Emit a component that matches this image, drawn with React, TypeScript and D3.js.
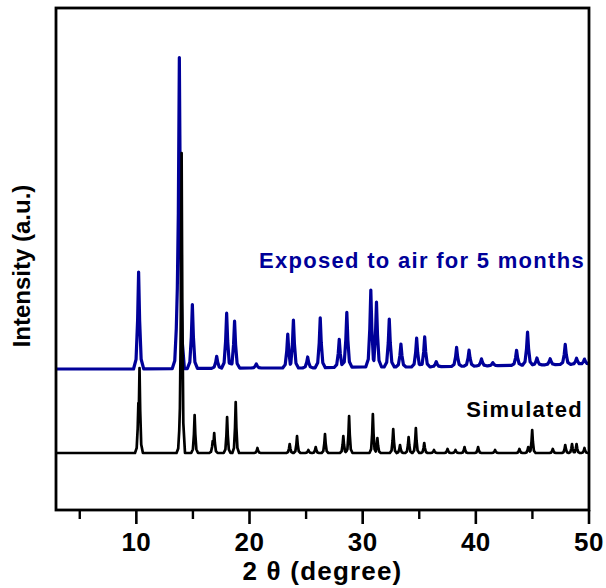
import React from 'react';
import * as d3 from 'd3';

// ---- axis ticks ----
const xMajorTicks = [10, 20, 30, 40, 50];
const xMinorTicks = [5, 15, 25, 35, 45];

// ---- Simulated pattern: peak positions (2θ) and heights (a.u. above baseline) ----
const simPos = [10.18, 10.28, 13.85, 14.0, 15.15, 16.75, 16.88, 18.02, 18.78, 20.7,
  23.55, 24.2, 25.2, 25.85, 26.67, 28.29, 28.8, 30.9, 31.3, 32.7,
  33.3, 34.06, 34.7, 35.44, 36.3, 37.5, 38.2, 39.0, 40.2, 41.7,
  43.85, 44.63, 44.98, 46.8, 47.9, 48.5, 48.9, 49.6];
const simHeight = [50, 85, 45, 300, 38, 12, 20, 36, 51, 5,
  9, 17, 3, 6, 19, 17, 37, 39, 15, 24,
  8, 16, 25, 10, 3, 4, 3, 6, 6, 3,
  4, 6, 23, 4, 8, 9, 9, 5];

// ---- Exposed to air for 5 months: peak positions and heights ----
const expPos = [10.2, 13.62, 13.8, 14.95, 17.1, 17.98, 18.68, 20.6, 23.38, 23.88,
  25.14, 26.25, 27.93, 28.6, 30.72, 31.22, 32.35, 33.38, 34.77, 35.48,
  36.5, 38.3, 39.4, 40.5, 41.5, 43.6, 44.57, 45.4, 46.57, 47.9,
  48.9, 49.6];
const expHeight = [97, 80, 311, 64, 12, 55, 47, 4, 34, 48,
  11, 50, 28, 55, 77, 65, 48, 23, 29, 30,
  5, 19, 16, 7, 3, 15, 33, 7, 6, 20,
  6, 5];
// slowly rising background of the measured pattern
const expBgPos = [2.9, 10, 20, 25, 30, 35, 40, 45, 50];
const expBg = [0, 0, 1, 1, 2, 2, 3, 4, 5];

// vertical offsets of the two traces (a.u.)
const simOffset = 0;
const expOffset = 84;

const W = 606;
const H = 588;
const left = 56, right = 589, top = 8, bottom = 510;

// peak profile shape (relative offset in units of half-base-width, relative height)
const profT = [-1, -0.5, -0.2, 0, 0.2, 0.5, 1];
const profV = [0, 0.1, 0.5, 1, 0.5, 0.1, 0];

function buildTrace(pos: number[], hts: number[], w: number, bgPos: number[], bg: number[], offset: number) {
  const bgFn = d3.scaleLinear().domain(bgPos).range(bg).clamp(true);
  const prof = d3.scaleLinear().domain(profT).range(profV).clamp(true);
  const xs: number[] = [...bgPos];
  pos.forEach((p) => profT.forEach((t) => xs.push(p + t * w)));
  xs.push(2.9, 50);
  const sorted = Array.from(new Set(xs.filter((x) => x >= 2.9 && x <= 50))).sort((a, b) => a - b);
  return sorted.map((x) => {
    let m = 0;
    pos.forEach((p, i) => {
      const t = (x - p) / w;
      if (t > -1 && t < 1) m = Math.max(m, hts[i] * prof(t));
    });
    return [x, offset + bgFn(x) + m] as [number, number];
  });
}

export default function App() {
  const x = d3.scaleLinear().domain([2.9, 50]).range([left, right]);
  const y = d3.scaleLinear().domain([-57, 446]).range([bottom, top - 1]);

  const simPts = buildTrace(simPos, simHeight, 0.3, [2.9, 50], [0, 0], simOffset);
  const expPts = buildTrace(expPos, expHeight, 0.45, expBgPos, expBg, expOffset);

  const line = d3.line<[number, number]>().x((d) => x(d[0])).y((d) => y(d[1]));

  const font = '"Liberation Sans", Arial, sans-serif';
  const blue = '#000099';

  return (
    <svg width={W} height={H} style={{ position: 'absolute', left: 0, top: 0, background: '#fff' }}>
      <rect x={0} y={0} width={W} height={H} fill="#fff" />
      <path d={line(expPts) || ''} fill="none" stroke={blue} strokeWidth={3.2} strokeLinejoin="round" />
      <path d={line(simPts) || ''} fill="none" stroke="#000" strokeWidth={2.7} strokeLinejoin="round" />

      {/* frame */}
      <rect x={left} y={top} width={right - left} height={bottom - top} fill="none" stroke="#000" strokeWidth={2.8} />

      {/* ticks */}
      {xMajorTicks.map((t) => (
        <line key={'M' + t} x1={x(t)} x2={x(t)} y1={bottom} y2={bottom + 14} stroke="#000" strokeWidth={2.6} />
      ))}
      {xMinorTicks.map((t) => (
        <line key={'m' + t} x1={x(t)} x2={x(t)} y1={bottom} y2={bottom + 9} stroke="#000" strokeWidth={2.4} />
      ))}
      {xMajorTicks.map((t) => (
        <text key={'L' + t} x={x(t)} y={551} textAnchor="middle" fontFamily={font} fontWeight="bold" fontSize={26} letterSpacing={0.5}>
          {t}
        </text>
      ))}

      <text x={(left + right) / 2} y={580} textAnchor="middle" fontFamily={font} fontWeight="bold" fontSize={26} letterSpacing={1.2}>
        2 θ (degree)
      </text>
      <text transform={`translate(30, 266) rotate(-90)`} textAnchor="middle" fontFamily={font} fontWeight="bold" fontSize={24}>
        Intensity (a.u.)
      </text>

      <text x={585} y={268} textAnchor="end" fontFamily={font} fontWeight="bold" fontSize={22} letterSpacing={1.3} fill={blue}>
        Exposed to air for 5 months
      </text>
      <text x={583} y={417} textAnchor="end" fontFamily={font} fontWeight="bold" fontSize={22} letterSpacing={1.3} fill="#000">
        Simulated
      </text>
    </svg>
  );
}
